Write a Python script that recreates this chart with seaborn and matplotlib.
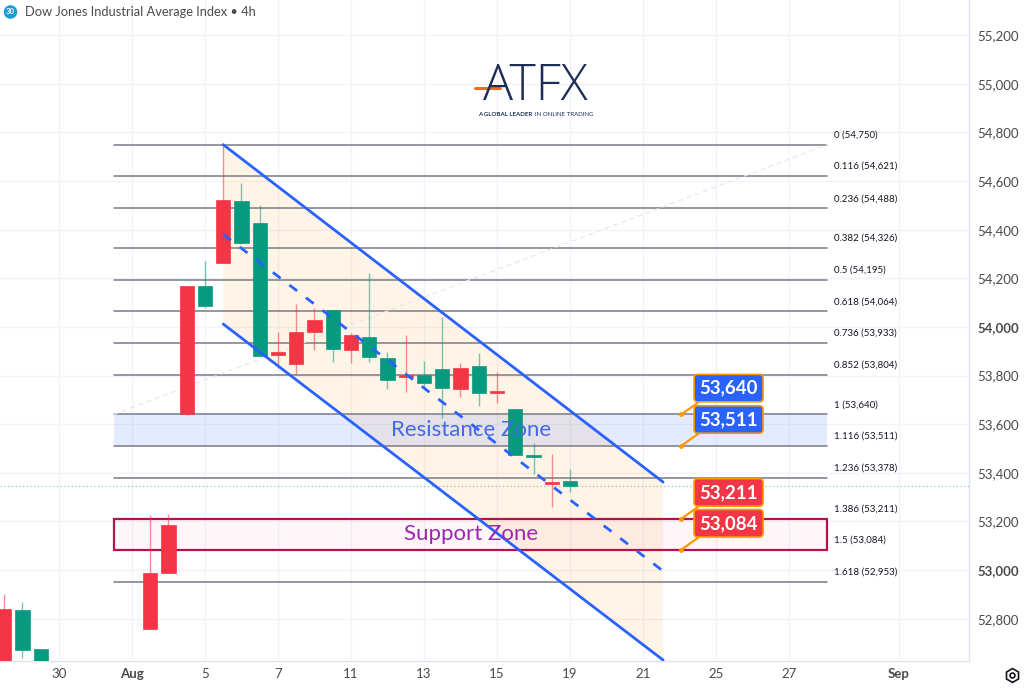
import seaborn as sns
import matplotlib.pyplot as plt
from matplotlib.lines import Line2D
from matplotlib.patches import Rectangle, Polygon

# Velas de 4h (2 por sesión), eje x en "slots" de vela
slots = [-3, -2, -1, 5, 6, 7, 8, 9, 10, 11, 12, 13, 14, 15, 16, 17, 18,
         19, 20, 21, 22, 23, 24, 25, 26, 27, 28]
opens = [52580, 52836, 52675, 52758, 52988, 53640, 54169, 54263, 54518, 54428,
         53885, 53848, 53979, 54070, 53905, 53959, 53872, 53794, 53803, 53827,
         53745, 53840, 53728, 53663, 53473, 53354, 53366]
highs = [52902, 52869, 52676, 53227, 53231, 54169, 54271, 54750, 54592, 54502,
         53979, 54095, 54078, 54070, 53975, 54222, 53897, 53967, 53860, 54041,
         53852, 53893, 53815, 53663, 53523, 53478, 53416]
lows = [52540, 52640, 52520, 52758, 52988, 53638, 54078, 54263, 54341, 53881,
        53831, 53807, 53905, 53856, 53852, 53856, 53745, 53733, 53749, 53626,
        53712, 53675, 53687, 53473, 53395, 53260, 53321]
closes = [52840, 52671, 52560, 52988, 53185, 54169, 54086, 54522, 54346, 53881,
          53897, 53979, 54029, 53909, 53967, 53877, 53782, 53798, 53770, 53749,
          53831, 53728, 53733, 53473, 53465, 53362, 53346]

# Fibonacci
fib_ratios = ["0", "0.116", "0.236", "0.382", "0.5", "0.618", "0.736", "0.852",
              "1", "1.116", "1.236", "1.386", "1.5", "1.618"]
fib_levels = [54750, 54621, 54488, 54326, 54195, 54064, 53933, 53804,
              53640, 53511, 53378, 53211, 53084, 52953]
fib_x = [3, 42.1]

# Canal bajista
chan_x = [9, 33.1]
chan_upper = [54750, 53362]
chan_lower = [54012, 52630]

# Zonas y etiquetas de precio
resistance = (53511, 53640)
support = (53084, 53211)
tag_values = [53640, 53511, 53211, 53084]
tag_colors = ["#2962FF", "#2962FF", "#F23645", "#F23645"]
tag_x = 34.1

x_tick_slots = [0, 4, 8, 12, 16, 20, 24, 28, 32, 36, 40, 46]
x_tick_labels = ["30", "Aug", "5", "7", "11", "13", "15", "19", "21", "25", "27", "Sep"]
y_ticks = list(range(52800, 55201, 200))

sns.set_theme(style="white")
plt.rcParams["font.family"] = ["Lato", "DejaVu Sans"]

fig = plt.figure(figsize=(10.24, 6.9), dpi=100)
ax = fig.add_axes([0, 29 / 690, 969 / 1024, 661 / 690])
ax.set_xlim(-3.23, 49.86)
ax.set_ylim(52626, 55345)

# Rejilla
for s in x_tick_slots:
    ax.axvline(s, color="#F0F3FA", lw=1, zorder=0)
for v in y_ticks:
    ax.axhline(v, color="#F0F3FA", lw=1, zorder=0)

# Relleno del canal
ax.add_patch(Polygon([(chan_x[0], chan_upper[0]), (chan_x[1], chan_upper[1]),
                      (chan_x[1], chan_lower[1]), (chan_x[0], chan_lower[0])],
                     closed=True, fc="#FF9800", alpha=0.1, ec="none", zorder=1))

# Zonas
ax.add_patch(Rectangle((fib_x[0], resistance[0]), fib_x[1] - fib_x[0],
                       resistance[1] - resistance[0], fc="#2962FF", alpha=0.12,
                       ec="none", zorder=1))
ax.add_patch(Rectangle((fib_x[0], support[0]), fib_x[1] - fib_x[0],
                       support[1] - support[0], fc="#E91E63", alpha=0.04,
                       ec="none", zorder=1))
ax.add_patch(Rectangle((fib_x[0], support[0]), fib_x[1] - fib_x[0],
                       support[1] - support[0], fc="none", ec="#B3124E",
                       lw=1.6, zorder=3))

# Líneas de Fibonacci
for r, lv in zip(fib_ratios, fib_levels):
    ax.plot(fib_x, [lv, lv], color="#787B86", lw=1.1, zorder=2)
    ax.annotate(f"{r} ({lv:,})", xy=(fib_x[1], lv), xytext=(5, 7),
                textcoords="offset points", fontsize=7, color="#131722",
                va="center", ha="left")
ax.plot([fib_x[0], fib_x[1]], [fib_levels[8], fib_levels[0]], color="#E6E8EC",
        lw=0.9, ls=(0, (4, 3)), zorder=2)

# Velas
up = [c >= o for o, c in zip(opens, closes)]
cols = ["#F23645" if u else "#089981" for u in up]
ax.vlines(slots, lows, highs, colors=cols, lw=1, alpha=0.55, zorder=4)
bottoms = [min(o, c) for o, c in zip(opens, closes)]
heights = [max(abs(c - o), 8) for o, c in zip(opens, closes)]
ax.bar(slots, heights, bottom=bottoms, width=0.78, color=cols, zorder=5,
       edgecolor=cols, linewidth=0.5)

# Canal
sns.lineplot(x=chan_x, y=chan_upper, color="#2962FF", lw=2, ax=ax, zorder=6)
sns.lineplot(x=chan_x, y=chan_lower, color="#2962FF", lw=2, ax=ax, zorder=6)
mid = [(a + b) / 2 for a, b in zip(chan_upper, chan_lower)]
ax.plot(chan_x, mid, color="#2962FF", lw=2, ls=(0, (3.5, 4)), zorder=6)

# Precio actual
ax.axhline(closes[-1], color="#089981", lw=0.9, ls=(0, (1, 2)), alpha=0.5, zorder=3)

# Textos de zonas
ax.text(22.6, sum(resistance) / 2, "Resistance Zone", color="#4468E6",
        fontsize=16, ha="center", va="center", zorder=7)
ax.text(22.6, sum(support) / 2, "Support Zone", color="#9C27B0",
        fontsize=16, ha="center", va="center", zorder=7)

# Etiquetas de precio
for v, c in zip(tag_values, tag_colors):
    ax.plot([tag_x], [v], "o", color="#FF9800", ms=2.5, zorder=8)
    ax.annotate(f"{v:,}", xy=(tag_x, v), xytext=(34, 19),
                textcoords="offset points", ha="center", va="center",
                fontsize=13.5, fontweight="bold", color="white", zorder=9,
                bbox=dict(boxstyle="round,pad=0.28,rounding_size=0.2", fc=c,
                          ec="#FF9800", lw=1.2),
                arrowprops=dict(arrowstyle="-", color="#FF9800", lw=1.6,
                                shrinkA=0, shrinkB=0, relpos=(0.12, 0)))

# Ejes
ax.yaxis.tick_right()
ax.set_yticks(y_ticks)
ax.set_yticklabels([f"{v:,}" for v in y_ticks])
ax.set_xticks(x_tick_slots)
ax.set_xticklabels(x_tick_labels)
ax.tick_params(axis="both", length=0, labelsize=9.5, labelcolor="#4A4A4A")
ax.tick_params(axis="y", pad=6)
ax.tick_params(axis="x", pad=5)
for lbl in ax.get_xticklabels():
    if lbl.get_text() in ("Aug", "Sep"):
        lbl.set_fontweight("bold")
for lbl in ax.get_yticklabels():
    if lbl.get_text() in ("54,000", "53,000"):
        lbl.set_fontweight("bold")
for side in ("top", "left"):
    ax.spines[side].set_visible(False)
for side in ("bottom", "right"):
    ax.spines[side].set_color("#E0E3EB")
    ax.spines[side].set_linewidth(1)

# Título
fig.text(10.5 / 1024, 1 - 12 / 690, "30", fontsize=5.5, color="white",
         ha="center", va="center", fontweight="bold",
         bbox=dict(boxstyle="circle,pad=0.3", fc="#1E9BD7", ec="none"))
fig.text(25 / 1024, 1 - 12 / 690, "Dow Jones Industrial Average Index \u2022 4h",
         fontsize=9.3, color="#4A4A4A", ha="left", va="center")

# Logo ATFX
fig.text(535 / 1024, 1 - 100 / 690, "ATFX", fontsize=36, color="#1B2F55",
         ha="center", va="baseline", family=["Open Sans", "DejaVu Sans"],
         fontweight="light")
fig.add_artist(Line2D([475 / 1024, 500 / 1024], [1 - 88 / 690, 1 - 88 / 690],
                      color="#F26B21", lw=2.2, transform=fig.transFigure))
sub_y = 1 - 115 / 690
sub1 = fig.text(478 / 1024, sub_y, "A GLOBAL LEADER ", fontsize=4.4,
                color="#1B2F55", ha="left", va="center", fontweight="bold")
fig.canvas.draw()
bb = sub1.get_window_extent().transformed(fig.transFigure.inverted())
fig.text(bb.x1 + 0.001, sub_y, "IN ONLINE TRADING", fontsize=4.4,
         color="#1B2F55", ha="left", va="center")

# Icono de ajustes
gx, gy = 1012 / 1024, 1 - 675 / 690
fig.add_artist(Line2D([gx], [gy], marker="h", ms=10, mfc="none", mec="#131722",
                      mew=1.2, transform=fig.transFigure))
fig.add_artist(Line2D([gx], [gy], marker="o", ms=3.5, mfc="none", mec="#131722",
                      mew=1.2, transform=fig.transFigure))

fig.savefig("out.png", dpi=100)
